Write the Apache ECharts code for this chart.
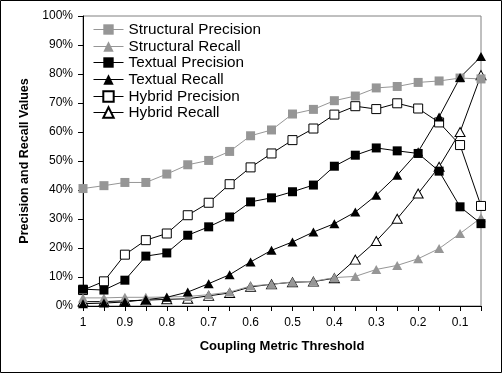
<!DOCTYPE html>
<html>
<head>
<meta charset="utf-8">
<script src="https://cdn.jsdelivr.net/npm/echarts@6/dist/echarts.min.js"></script>
<style>
html,body{margin:0;padding:0;background:#fff;}
#chart{width:502px;height:373px;}
</style>
</head>
<body>
<div id="chart"></div>
<script>
const categories = ["1","0.95","0.9","0.85","0.8","0.75","0.7","0.65","0.6","0.55","0.5","0.45","0.4","0.35","0.3","0.25","0.2","0.15","0.1","0.05"];
const structuralPrecision = [40.5, 41.5, 42.6, 42.6, 45.5, 48.7, 50.2, 53.3, 58.7, 60.7, 66.2, 67.8, 70.8, 72.4, 75.2, 75.7, 77.1, 77.6, 78.6, 78.3];
const structuralRecall = [2.8, 2.8, 3.0, 3.0, 3.1, 3.3, 3.9, 4.8, 6.9, 7.5, 8.3, 8.5, 9.8, 10.2, 12.6, 14.0, 16.3, 19.8, 25.0, 30.4];
const textualPrecision = [5.8, 5.5, 8.9, 17.2, 18.3, 24.4, 27.3, 30.7, 35.9, 37.3, 39.4, 41.7, 48.2, 52.0, 54.5, 53.5, 52.6, 46.5, 34.2, 28.4];
const textualRecall = [0.8, 1.0, 1.4, 2.2, 3.0, 4.8, 7.7, 10.8, 15.2, 19.2, 22.1, 25.5, 28.4, 32.4, 38.2, 45.1, 53.2, 65.2, 78.8, 86.0];
const hybridPrecision = [5.5, 8.5, 17.7, 22.7, 25.0, 31.3, 35.6, 42.0, 47.8, 52.6, 57.2, 61.2, 66.0, 68.9, 67.9, 69.9, 68.1, 63.3, 55.5, 34.5];
const hybridRecall = [1.5, 1.5, 1.8, 2.0, 2.3, 2.5, 3.5, 4.5, 6.6, 7.5, 8.2, 8.4, 9.6, 16.0, 22.4, 30.1, 38.8, 48.0, 60.0, 79.6];
const yTicks = [0,10,20,30,40,50,60,70,80,90,100];
const legendNames = ['Structural Precision','Structural Recall','Textual Precision','Textual Recall','Hybrid Precision','Hybrid Recall'];

const GRAY = '#969696';
const FONT = 'Liberation Sans, Arial, sans-serif';
function mkS(name, data, symbol, fill, border, lineColor, size) {
  const s = {
    name: name, type: 'line', data: data,
    symbol: symbol, symbolSize: size, showAllSymbol: true,
    lineStyle: {color: lineColor, width: 1},
    itemStyle: border === 'none' ? {color: fill, borderWidth: 0} : {color: fill, borderColor: border, borderWidth: 1},
    emphasis: {disabled: true},
    animation: false
  };
  return s;
}

const legendTops = [21, 38, 54, 71, 88, 104];
const legends = legendNames.map(function(n, i){
  return {
    orient: 'vertical', left: 93, top: legendTops[i],
    itemWidth: 30, itemHeight: 13, itemGap: 0, padding: 0,
    lineStyle: {width: 1},
    textStyle: {fontSize: 15.3, color: '#000', lineHeight: 17, fontFamily: FONT},
    data: [n], selectedMode: false
  };
});

const chart = echarts.init(document.getElementById('chart'), null, {renderer: 'canvas'});
chart.setOption({
  animation: false,
  backgroundColor: '#fff',
  textStyle: {fontFamily: FONT},
  graphic: [{
    type: 'rect', shape: {x: 0.5, y: 0.5, width: 501, height: 372},
    style: {fill: 'none', stroke: '#000', lineWidth: 1}, silent: true, z: 100
  }],
  grid: {left: 83, top: 16, right: 21, bottom: 67, show: true, borderColor: '#808080', borderWidth: 1, backgroundColor: '#fff'},
  legend: legends,
  xAxis: {
    type: 'category', data: categories, boundaryGap: false,
    name: 'Coupling Metric Threshold', nameLocation: 'middle', nameGap: 34,
    nameTextStyle: {fontSize: 13, fontWeight: 'bold', color: '#000'},
    axisLine: {lineStyle: {color: '#000', width: 1}},
    axisTick: {show: true, interval: 0, length: 5, lineStyle: {color: '#000'}},
    axisLabel: {interval: 1, fontSize: 12, color: '#000', margin: 11},
    splitLine: {show: false}
  },
  yAxis: {
    type: 'value', min: 0, max: 100, interval: 10,
    name: 'Precision and Recall Values', nameLocation: 'middle', nameGap: 50,
    nameTextStyle: {fontSize: 12.5, fontWeight: 'bold', color: '#000'},
    axisLine: {show: true, lineStyle: {color: '#000', width: 1}},
    axisTick: {show: true, length: 5, lineStyle: {color: '#000'}},
    axisLabel: {fontSize: 12, color: '#000', margin: 10, formatter: function(v){ return yTicks.indexOf(v) >= 0 ? v + '%' : ''; }},
    splitLine: {show: false}
  },
  series: [
    mkS('Hybrid Precision', hybridPrecision, 'rect', '#fff', '#000', '#000', 9),
    mkS('Hybrid Recall', hybridRecall, 'triangle', '#fff', '#000', '#000', [10, 9]),
    mkS('Structural Precision', structuralPrecision, 'rect', GRAY, 'none', GRAY, 9),
    mkS('Structural Recall', structuralRecall, 'triangle', GRAY, 'none', GRAY, [10, 9]),
    mkS('Textual Precision', textualPrecision, 'rect', '#000', 'none', '#000', 9),
    mkS('Textual Recall', textualRecall, 'triangle', '#000', 'none', '#000', [10, 9])
  ]
});
</script>
</body>
</html>
